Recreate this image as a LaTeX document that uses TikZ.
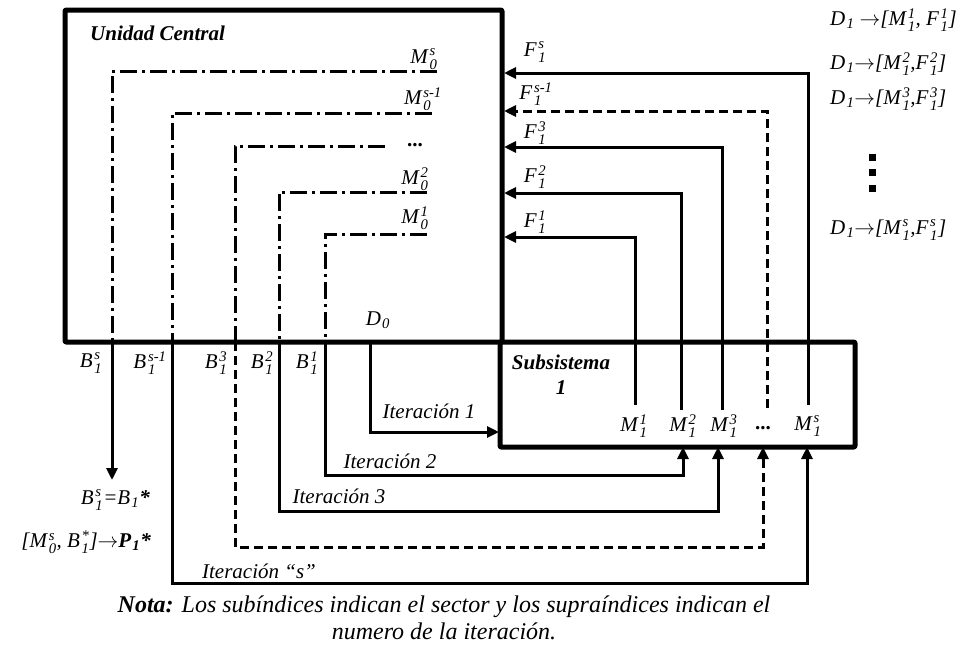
\documentclass[tikz,border=0pt]{standalone}
\usepackage{amsmath}
\usepackage{fontspec}
\setmainfont{Liberation Serif}
\usetikzlibrary{arrows.meta}
% italic symbol with stacked subscript and superscript
\newcommand\ix[3]{$\textit{#1}\mkern1.5mu_{\textit{#2}}^{\textit{#3}}$}
\newcommand\isub[2]{$\textit{#1}\mkern1mu_{\textit{#2}}$}
\begin{document}
\begin{tikzpicture}[x=1pt,y=-1pt,
  frame/.style={line width=5pt, line join=round, rounded corners=1pt},
  dotdash/.style={line width=3pt, dash pattern=on 17pt off 5pt on 3pt off 5pt},
  link/.style={line width=3pt},
  dashlink/.style={line width=3pt, dash pattern=on 9pt off 5pt},
  tip/.style={-{Triangle[length=12pt,width=11pt]}},
  lbl/.style={font=\fontsize{21}{25}\selectfont\itshape, inner sep=0pt},
  blbl/.style={font=\fontsize{21}{25}\selectfont\bfseries\itshape, inner sep=0pt},
  note/.style={font=\fontsize{24}{27}\selectfont\itshape, inner sep=0pt, align=center},
  dotsq/.style={fill=black, minimum size=7pt, inner sep=0pt}]
\useasboundingbox (0,0) rectangle (968,651);

% ---- the two blocks
\coordinate (ucNW) at (65,10);
\coordinate (ucSE) at (502,342);
\coordinate (ssNW) at (500,342);
\coordinate (ssSE) at (855,447);
\draw[frame] (ucNW) rectangle (ucSE);
\draw[frame] (ssNW) rectangle (ssSE);
\node[blbl, anchor=west] (uc) at (90,33) {Unidad Central};
\node[blbl] (ss) at (561,362) {Subsistema};
\node[blbl] (ss1) at (561,388) {1};

% ---- master problem iterates inside the central unit
\coordinate (a1) at (437,71);  \coordinate (b1) at (112,71);  \coordinate (c1) at (112,342);
\coordinate (a2) at (432,113); \coordinate (b2) at (172,113); \coordinate (c2) at (172,342);
\coordinate (a3) at (385,146); \coordinate (b3) at (235,146); \coordinate (c3) at (235,342);
\coordinate (a4) at (427,192); \coordinate (b4) at (279,192); \coordinate (c4) at (279,342);
\coordinate (a5) at (427,234); \coordinate (b5) at (325,234); \coordinate (c5) at (325,342);
\draw[dotdash] (a1) -- (b1) -- (c1);
\draw[dotdash] (a2) -- (b2) -- (c2);
\draw[dotdash] (a3) -- (b3) -- (c3);
\draw[dotdash] (a4) -- (b4) -- (c4);
\draw[dotdash] (a5) -- (b5) -- (c5);
\node[lbl] (m0s)  at (424,59)  {\ix{M}{0}{s}};
\node[lbl] (m0s1) at (423,99)  {\ix{M}{0}{s-1}};
\node[lbl, font=\fontsize{21}{25}\selectfont\bfseries] (m0d) at (415,145) {...};
\node[lbl] (m0b)  at (415,179) {\ix{M}{0}{2}};
\node[lbl] (m0a)  at (415,218) {\ix{M}{0}{1}};

% ---- subproblem outputs and cuts back to the central unit
\coordinate (p1) at (635,405); \coordinate (q1) at (635,237); \coordinate (r1) at (504,237);
\coordinate (p2) at (681,410); \coordinate (q2) at (681,193); \coordinate (r2) at (504,193);
\coordinate (p3) at (722,410); \coordinate (q3) at (722,147); \coordinate (r3) at (504,147);
\coordinate (p4) at (767,408); \coordinate (q4) at (767,111); \coordinate (r4) at (504,111);
\coordinate (p5) at (808,405); \coordinate (q5) at (808,73);  \coordinate (r5) at (504,73);
\draw[link, tip] (p1) -- (q1) -- (r1);
\draw[link, tip] (p2) -- (q2) -- (r2);
\draw[link, tip] (p3) -- (q3) -- (r3);
\draw[dashlink, tip] (p4) -- (q4) -- (r4);
\draw[link, tip] (p5) -- (q5) -- (r5);
\node[lbl] (f1s)  at (535,52)  {\ix{F}{1}{s}};
\node[lbl] (f1s1) at (536,94)  {\ix{F}{1}{s-1}};
\node[lbl] (f13)  at (535,133) {\ix{F}{1}{3}};
\node[lbl] (f12)  at (535,177) {\ix{F}{1}{2}};
\node[lbl] (f11)  at (535,222) {\ix{F}{1}{1}};

\node[lbl] (m11) at (634,426) {\ix{M}{1}{1}};
\node[lbl] (m12) at (683,426) {\ix{M}{1}{2}};
\node[lbl] (m13) at (724,426) {\ix{M}{1}{3}};
\node[lbl, font=\fontsize{21}{25}\selectfont\bfseries] (m1d) at (763,428) {...};
\node[lbl] (m1s) at (808,426) {\ix{M}{1}{s}};

% ---- proposals sent to the subsystem
\coordinate (d0) at (370,342); \coordinate (d0c) at (370,432); \coordinate (d0e) at (499,432);
\draw[link, tip] (d0) -- (d0c) -- (d0e);
\node[lbl] (d0l) at (378,320) {\isub{D}{0}};
\node[lbl] (it1) at (429,411) {Iteración 1};

\coordinate (e5) at (325,475); \coordinate (g5) at (683,475); \coordinate (h5) at (683,447);
\draw[link, tip] (c5) -- (e5) -- (g5) -- (h5);
\node[lbl] (it2) at (390,461) {Iteración 2};

\coordinate (e4) at (279,511); \coordinate (g4) at (718,511); \coordinate (h4) at (718,447);
\draw[link, tip] (c4) -- (e4) -- (g4) -- (h4);
\node[lbl] (it3) at (339,496) {Iteración 3};

\coordinate (e3) at (235,547); \coordinate (g3) at (763,547); \coordinate (h3) at (763,447);
\draw[dashlink, tip] (c3) -- (e3) -- (g3) -- (h3);

\coordinate (e2) at (172,583); \coordinate (g2) at (807,583); \coordinate (h2) at (807,447);
\draw[link, tip] (c2) -- (e2) -- (g2) -- (h2);
\node[lbl] (its) at (259,571) {Iteración “s”};

\coordinate (e1) at (112,480);
\draw[link, tip] (c1) -- (e1);

\node[lbl] (b1s)  at (91,363)  {\ix{B}{1}{s}};
\node[lbl] (b1s1) at (150,363) {\ix{B}{1}{s-1}};
\node[lbl] (b13)  at (216,363) {\ix{B}{1}{3}};
\node[lbl] (b12)  at (262,363) {\ix{B}{1}{2}};
\node[lbl] (b11)  at (307,363) {\ix{B}{1}{1}};

\node[lbl, anchor=east] (bopt) at (150,500) {\ix{B}{1}{s}=\isub{B}{1}\textbf{*}};
\node[lbl, anchor=east] (popt) at (151,542) {[\ix{M}{0}{s}, \ix{B}{1}{*}]$\rightarrow$\textbf{$\textbf{\textit{P}}\mkern1mu_{\textbf{\textit{1}}}$*}};

% ---- subsystem solutions listed on the right
\node[lbl, anchor=west] (r1l) at (830,20)  {\isub{D}{1} $\rightarrow$[\ix{M}{1}{1}, \ix{F}{1}{1}]};
\node[lbl, anchor=west] (r2l) at (830,64)  {\isub{D}{1}$\rightarrow$[\ix{M}{1}{2},\ix{F}{1}{2}]};
\node[lbl, anchor=west] (r3l) at (830,99)  {\isub{D}{1}$\rightarrow$[\ix{M}{1}{3},\ix{F}{1}{3}]};
\node[dotsq] (sq1) at (872,157) {};
\node[dotsq] (sq2) at (872,172) {};
\node[dotsq] (sq3) at (872,188) {};
\node[lbl, anchor=west] (r4l) at (830,230) {\isub{D}{1}$\rightarrow$[\ix{M}{1}{s},\ix{F}{1}{s}]};

% ---- footnote
\node[note] (nota) at (444,618) {\textbf{Nota:} Los subíndices indican el sector y los supraíndices indican el\\numero de la iteración.};
\end{tikzpicture}
\end{document}
